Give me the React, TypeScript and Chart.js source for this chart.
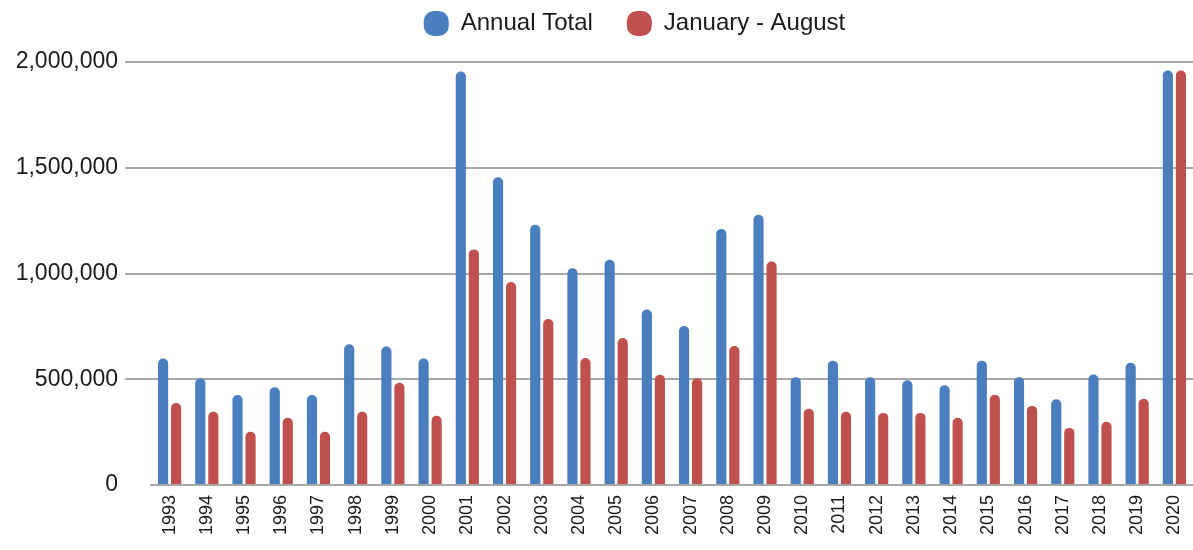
import { useEffect, useRef } from 'react';
import { Chart, registerables } from 'chart.js';

Chart.register(...registerables);

const years = [
  '1993', '1994', '1995', '1996', '1997', '1998', '1999', '2000', '2001', '2002',
  '2003', '2004', '2005', '2006', '2007', '2008', '2009', '2010', '2011', '2012',
  '2013', '2014', '2015', '2016', '2017', '2018', '2019', '2020',
];

const annualTotal = [
  598000, 505000, 425000, 462000, 425000, 665000, 655000, 598000, 1955000, 1455000,
  1230000, 1025000, 1065000, 830000, 752000, 1210000, 1278000, 510000, 588000, 510000,
  495000, 472000, 588000, 510000, 405000, 522000, 578000, 1960000,
];

const janToAug = [
  388000, 346000, 252000, 318000, 252000, 346000, 483000, 327000, 1114000, 960000,
  785000, 600000, 695000, 521000, 505000, 657000, 1057000, 360000, 346000, 341000,
  341000, 318000, 427000, 374000, 270000, 299000, 408000, 1960000,
];

const seriesNames = ['Annual Total', 'January - August'];
const yTicks = [0, 500000, 1000000, 1500000, 2000000];

const BLUE = '#4a7ebf';
const RED = '#c0504d';
const GRID = '#a8a8a8';
const FONT = '"Liberation Sans", Arial, sans-serif';

const legendPlace = {
  id: 'legendPlace',
  afterLayout(chart: any) {
    const lg = chart.legend;
    if (lg) {
      lg.left += 38;
      lg.right += 38;
      lg.top = -23;
      lg.height = 80;
      lg.bottom = lg.top + lg.height;
    }
  },
};

export default function App() {
  const ref = useRef<HTMLCanvasElement>(null);

  useEffect(() => {
    if (!ref.current) return;
    const chart = new Chart(ref.current, {
      type: 'bar',
      data: {
        labels: years,
        datasets: [
          {
            label: seriesNames[0],
            data: annualTotal,
            backgroundColor: BLUE,
            borderRadius: 5,
            borderSkipped: 'start',
            categoryPercentage: 0.7,
            barPercentage: 0.78,
          },
          {
            label: seriesNames[1],
            data: janToAug,
            backgroundColor: RED,
            borderRadius: 5,
            borderSkipped: 'start',
            categoryPercentage: 0.7,
            barPercentage: 0.78,
          },
        ],
      },
      plugins: [legendPlace],
      options: {
        animation: false,
        responsive: true,
        maintainAspectRatio: false,
        layout: { padding: { left: 0, right: 0, top: 0, bottom: 0 } },
        plugins: {
          tooltip: { enabled: false },
          legend: {
            position: 'top',
            maxHeight: 40,
            labels: {
              color: '#1a1a1a',
              font: { family: FONT, size: 24 },
              boxWidth: 25,
              boxHeight: 25,
              useBorderRadius: true,
              borderRadius: 10,
              padding: 34,
            },
          },
        },
        scales: {
          x: {
            grid: { display: false },
            border: { display: true, color: GRID, width: 2 },
            ticks: {
              color: '#1a1a1a',
              font: { family: FONT, size: 18 },
              minRotation: 90,
              maxRotation: 90,
              padding: 2,
              autoSkip: false,
            },
            afterFit: (scale: any) => {
              scale.height = 65;
              scale.paddingLeft = 0;
              scale.paddingRight = 0;
            },
          },
          y: {
            min: 0,
            max: 2000000,
            afterBuildTicks: (scale: any) => {
              scale.ticks = yTicks.map((v) => ({ value: v }));
            },
            grid: {
              color: GRID,
              lineWidth: 2,
              tickLength: 26,
              tickColor: (ctx: any) => (ctx.tick && ctx.tick.value === 0 ? 'rgba(0,0,0,0)' : GRID),
            },
            border: { display: false },
            ticks: {
              color: '#1a1a1a',
              font: { family: FONT, size: 23 },
              padding: 7,
              callback: (v: any) => Number(v).toLocaleString('en-US'),
            },
            afterFit: (scale: any) => {
              scale.width = 151;
              scale.paddingTop = 62;
            },
          },
        },
      },
    });
    return () => chart.destroy();
  }, []);

  return (
    <div style={{ position: 'fixed', left: 0, top: 0, width: 1193, height: 550, background: '#fff' }}>
      <canvas ref={ref} />
    </div>
  );
}
